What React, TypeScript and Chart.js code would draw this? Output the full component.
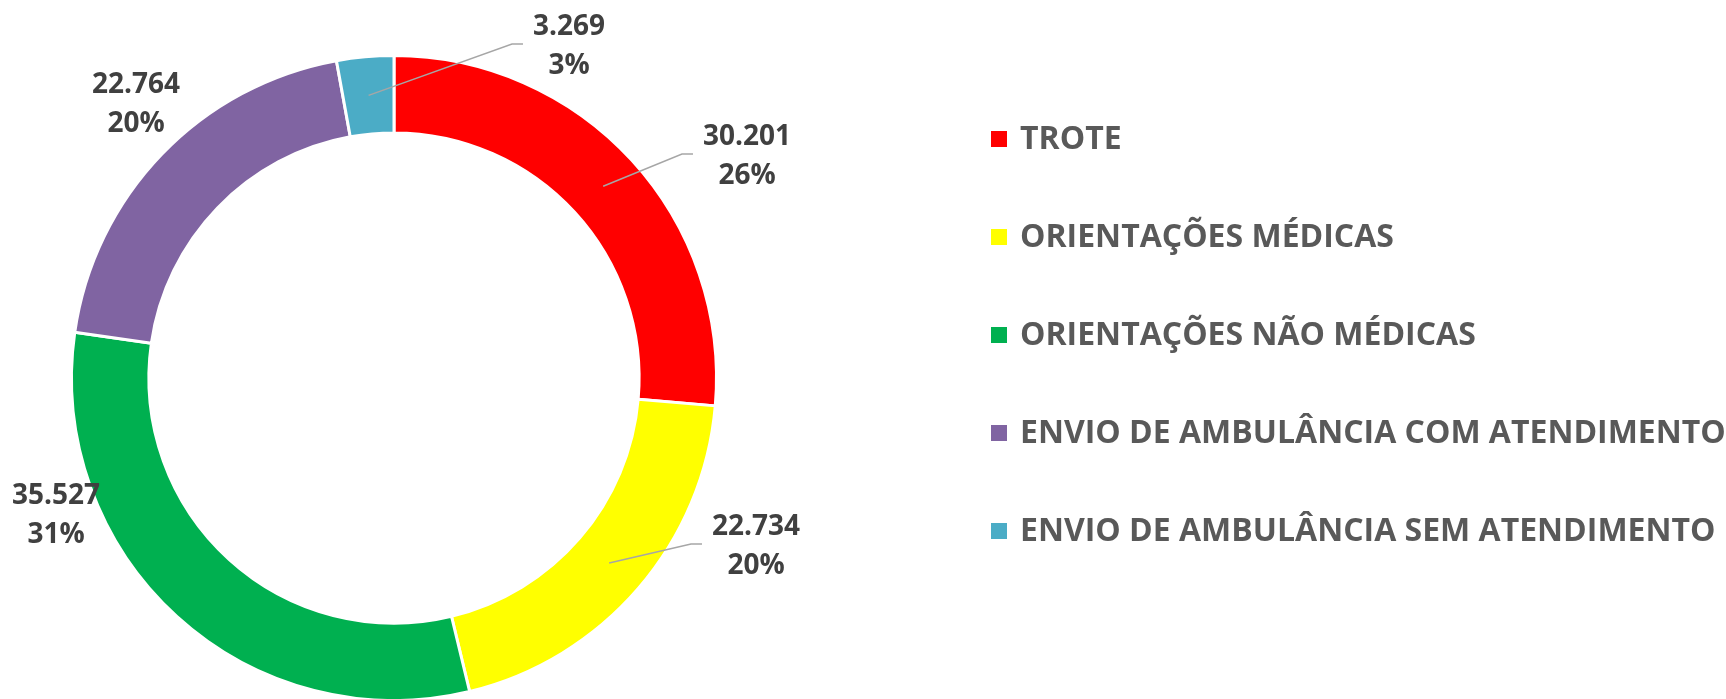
import React, { useEffect, useRef } from "react";
import { Chart, registerables } from "chart.js";

Chart.register(...registerables);

const categories = [
  "TROTE",
  "ORIENTAÇÕES MÉDICAS",
  "ORIENTAÇÕES NÃO MÉDICAS",
  "ENVIO DE AMBULÂNCIA COM ATENDIMENTO",
  "ENVIO DE AMBULÂNCIA SEM ATENDIMENTO",
];
const values = [30201, 22734, 35527, 22764, 3269];
const colors = ["#FF0000", "#FFFF00", "#00B050", "#8064A2", "#4BACC6"];

// label placement (offset from donut centre) and whether a leader line is drawn
const labelOffsets = [
  { dx: 353, dy: -222, leader: true },
  { dx: 362, dy: 168, leader: true },
  { dx: -338, dy: 137, leader: false },
  { dx: -258, dy: -274, leader: false },
  { dx: 175, dy: -332, leader: true },
];

const FONT = "'Open Sans', 'DejaVu Sans', sans-serif";

function fmtThousands(v: number): string {
  return String(v).replace(/\B(?=(\d{3})+(?!\d))/g, ".");
}

const dataLabelPlugin = {
  id: "dataLabelPlugin",
  afterDatasetsDraw(chart: any) {
    const ctx = chart.ctx;
    const meta = chart.getDatasetMeta(0);
    const data = chart.data.datasets[0].data as number[];
    const total = data.reduce((a, b) => a + b, 0);
    ctx.save();
    ctx.font = `bold 28px ${FONT}`;
    ctx.textAlign = "center";
    ctx.textBaseline = "middle";
    meta.data.forEach((arc: any, i: number) => {
      const p = arc.getProps(["x", "y", "startAngle", "endAngle", "innerRadius", "outerRadius"], true);
      const off = labelOffsets[i];
      const lx = p.x + off.dx;
      const ly = p.y + off.dy;
      const l1 = fmtThousands(data[i]);
      const l2 = Math.round((data[i] / total) * 100) + "%";
      const w = Math.max(ctx.measureText(l1).width, ctx.measureText(l2).width);
      if (off.leader) {
        const mid = (p.startAngle + p.endAngle) / 2;
        const rr = (p.innerRadius + p.outerRadius) / 2;
        const sx = p.x + Math.cos(mid) * rr;
        const sy = p.y + Math.sin(mid) * rr;
        const ex = lx - w / 2 - 10;
        const ey = ly - 2;
        ctx.strokeStyle = "#A6A6A6";
        ctx.lineWidth = 1.5;
        ctx.beginPath();
        ctx.moveTo(sx, sy);
        ctx.lineTo(ex - 11, ey);
        ctx.lineTo(ex, ey);
        ctx.stroke();
      }
      ctx.fillStyle = "#404040";
      ctx.fillText(l1, lx, ly - 19);
      ctx.fillText(l2, lx, ly + 20);
    });
    ctx.restore();
  },
};

const sideLegendPlugin = {
  id: "sideLegendPlugin",
  afterDraw(chart: any) {
    const ctx = chart.ctx;
    const labels = chart.data.labels as string[];
    const bg = chart.data.datasets[0].backgroundColor as string[];
    const x0 = 991;
    const y0 = 139;
    const step = 98;
    ctx.save();
    ctx.font = `bold 32px ${FONT}`;
    ctx.textAlign = "left";
    ctx.textBaseline = "middle";
    labels.forEach((lab, i) => {
      const cy = y0 + i * step;
      ctx.fillStyle = bg[i];
      ctx.fillRect(x0, cy - 8, 16, 16);
      ctx.fillStyle = "#595959";
      ctx.fillText(lab, x0 + 29, cy + 1);
    });
    ctx.restore();
  },
};

export default function App() {
  const ref = useRef<HTMLCanvasElement | null>(null);
  useEffect(() => {
    if (!ref.current) return;
    const chart = new Chart(ref.current, {
      type: "doughnut",
      data: {
        labels: categories,
        datasets: [
          {
            data: values,
            backgroundColor: colors,
            borderColor: "#FFFFFF",
            borderWidth: 3,
            hoverOffset: 0,
          },
        ],
      },
      options: {
        responsive: false,
        animation: false,
        devicePixelRatio: 1,
        cutout: "76%",
        layout: { padding: { left: 70, top: 54, right: 1726 - 70 - 648, bottom: 720 - 54 - 648 } },
        plugins: {
          legend: { display: false },
          tooltip: { enabled: false },
        },
      },
      plugins: [dataLabelPlugin, sideLegendPlugin],
    });
    return () => chart.destroy();
  }, []);
  return (
    <div style={{ position: "fixed", left: 0, top: 0, width: 1726, height: 699, overflow: "hidden", background: "#fff" }}>
      <canvas ref={ref} width={1726} height={720} style={{ width: 1726, height: 720, display: "block" }} />
    </div>
  );
}
